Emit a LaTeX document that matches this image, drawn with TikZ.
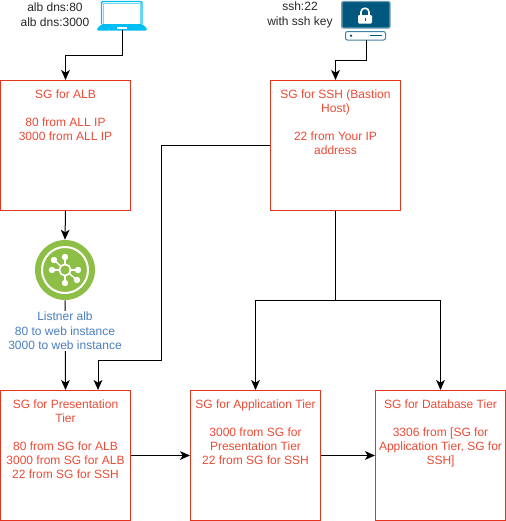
\documentclass[tikz,border=0pt]{standalone}
\usepackage{fontspec}
\setmainfont{Liberation Sans}
\usetikzlibrary{arrows.meta}
\definecolor{sgred}{HTML}{E5341F}
\definecolor{sgtext}{HTML}{EA4A35}
\definecolor{lblue}{HTML}{4A7EBF}
\definecolor{lapcyan}{HTML}{00BEF2}
\definecolor{mondark}{HTML}{00587F}
\definecolor{monline}{HTML}{6F9DB3}
\definecolor{lisgreen}{HTML}{8DBE45}
\begin{document}
\begin{tikzpicture}[x=0.75pt, y=-0.75pt, node distance=202.5pt,
  block/.style={draw=sgred, line width=0.75pt, minimum width=97.5pt, minimum height=97.5pt, inner sep=0pt},
  blocktext/.style={anchor=north, text=sgtext, align=center, font=\fontsize{9}{10.5}\selectfont, inner sep=0pt},
  plaintext/.style={align=center, font=\fontsize{9}{11.5}\selectfont, text=black!85, inner sep=0pt},
  icon/.style={minimum width=36pt, inner sep=0pt},
  link/.style={draw=black, line width=0.75pt, -{Stealth[length=7.5pt, width=6.5pt, inset=2pt]}},
  wire/.style={draw=black, line width=0.75pt}]

  \useasboundingbox (0,0) rectangle (506,521);

  % First row
  \node[block] (ALB) at (65.5,145.5) {};
  \node[block, right of=ALB] (SSH) {};

  % Second row
  \node[block] (PRES) at (65.5,455.5) {};
  \node[block, right of=PRES, node distance=142.5pt] (APP) {};
  \node[block, right of=APP, node distance=138.75pt] (DB) {};

  % Texts of the blocks
  \node[blocktext] (ALBtext) at (65.5,89.5) {SG for ALB\\[10.5pt]80 from ALL IP\\3000 from ALL IP};
  \node[blocktext] (SSHtext) at (335.5,89.5) {SG for SSH (Bastion\\Host)\\[10.5pt]22 from Your IP\\address};
  \node[blocktext] (PREStext) at (65.5,399.5) {SG for Presentation\\Tier\\[10.5pt]80 from SG for ALB\\3000 from SG for ALB\\22 from SG for SSH};
  \node[blocktext] (APPtext) at (255.5,399.5) {SG for Application Tier\\[10.5pt]3000 from SG for\\Presentation Tier\\22 from SG for SSH};
  \node[blocktext] (DBtext) at (440.5,399.5) {SG for Database Tier\\[10.5pt]3306 from [SG for\\Application Tier, SG for\\SSH]};

  % Icons
  \node[icon, minimum height=22.5pt] (laptop) at (122,15) {};
  \node[icon, minimum height=29.25pt] (monitor) at (366,20.5) {};
  \node[circle, fill=lisgreen, minimum size=45pt, inner sep=0pt] (listener) at (65,270) {};

  % laptop
  \draw[lapcyan!55, line width=0.5pt, fill=white] (103,3) rectangle (140,24);
  \draw[lapcyan, line width=1pt, rounded corners=1pt] (101.5,24) -- (101.5,1.5) -- (142,1.5) -- (142,24);
  \fill[lapcyan, rounded corners=1pt] (102,24) -- (142,24) -- (147,28.5) -- (147,30.5) -- (97,30.5) -- (97,28.5) -- cycle;
  \fill[white] (117,26.8) rectangle (126.5,28.5);

  % monitor
  \draw[monline, line width=1.1pt, fill=mondark, rounded corners=1pt] (341.8,1.5) rectangle (390,28);
  \fill[white, rounded corners=0.8pt] (358,15) rectangle (372,23.5);
  \draw[white, line width=1.2pt] (361,15.5) -- (361,12) .. controls (361,7) and (369,7) .. (369,12) -- (369,15.5);
  \fill[mondark] (364.5,17.5) rectangle (365.8,21);
  \draw[mondark!75!white, line width=0.75pt, fill=white, rounded corners=1.5pt] (345.5,31.5) rectangle (385.5,40);
  \fill[mondark] (351,35.7) circle[radius=1.3];
  \draw[mondark, line width=1pt] (370,35.7) -- (382,35.7);

  % listener
  \draw[white, line width=1.5pt] (listener.center) circle[radius=23];
  \draw[white, line width=1.5pt] (listener.center) circle[radius=5.5];
  \foreach \dx/\dy in {0/-13, -11/-10, -13/0, 13/0, 12/10, 0/13} {
    \draw[white, line width=1.1pt] (listener.center) -- ++(\dx,\dy);
    \fill[white] (listener.center) ++(\dx,\dy) circle[radius=3.2];
  }
  \fill[lisgreen] (listener.center) circle[radius=4.6];

  % Labels
  \node[plaintext] (laptoptext) at (55,15) {alb dns:80\\alb dns:3000};
  \node[plaintext] (monitortext) at (300,15) {ssh:22\\with ssh key};

  % Bends
  \coordinate (lapbend) at (122,55);
  \coordinate (monbend) at (366,60);
  \coordinate (sshbendA) at (161,145.5);
  \coordinate (sshbendB) at (161,360);
  \coordinate (sshbendC) at (98,360);
  \coordinate (sshbus) at (335.5,300);

  % Arrows
  \draw[link] (laptop.south) -- (lapbend) -| (ALB.north);
  \draw[link] (monitor.south) -- (monbend) -| (SSH.north);
  \draw[link] (ALB.south) -- (listener.north);
  \draw[link] (listener.south) -- (PRES.north);
  \node[fill=white, text=lblue, align=center, font=\fontsize{9}{11}\selectfont, inner sep=1pt] (listenertext) at (65,331) {Listner alb\\80 to web instance\\3000 to web instance};

  \draw[link] (SSH.west) -- (sshbendA) -- (sshbendB) -- (sshbendC) -- (sshbendC |- PRES.north);
  \draw[wire] (SSH.south) -- (sshbus);
  \draw[link] (sshbus) -| (APP.north);
  \draw[link] (sshbus) -| (DB.north);
  \draw[link] (PRES.east) -- (APP.west);
  \draw[link] (APP.east) -- (DB.west);

\end{tikzpicture}
\end{document}
